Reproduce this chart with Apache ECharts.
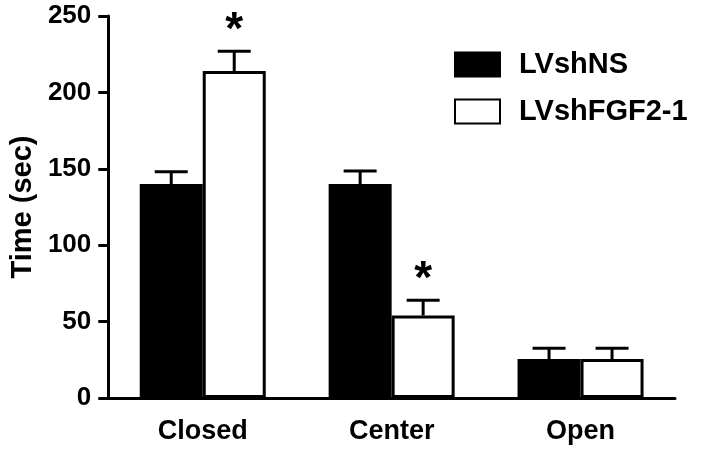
<!DOCTYPE html>
<html>
<head>
<meta charset="utf-8">
<script src="https://cdn.jsdelivr.net/npm/echarts@6/dist/echarts.min.js"></script>
<style>html,body{margin:0;padding:0;background:#fff;}#c{width:704px;height:454px;}</style>
</head>
<body>
<div id="c"></div>
<script>
const categories = ['Closed', 'Center', 'Open'];
const seriesNames = ['LVshNS', 'LVshFGF2-1'];
const meansNS = [140, 140, 25.5];
const errNS = [8, 8.5, 7];
const meansFGF = [214, 54, 25.5];
const errFGF = [13, 10, 7];
const sigNS = [false, false, false];
const sigFGF = [true, true, false];
const yTicks = [0, 50, 100, 150, 200, 250];

const FONT = '"Liberation Sans", Arial, sans-serif';
const BAR_W = 63;

function errSeries(means, errs, sigs, offset) {
  return {
    type: 'custom',
    silent: true,
    z: 5,
    data: means.map((m, i) => [i, m, errs[i], sigs[i] ? 1 : 0]),
    renderItem: function (params, api) {
      const x = api.value(0), m = api.value(1), e = api.value(2), s = api.value(3);
      const p0 = api.coord([x, m]);
      const p1 = api.coord([x, m + e]);
      const cx = p0[0] + offset;
      const half = 16.5;
      const children = [
        { type: 'line', shape: { x1: cx, y1: p0[1], x2: cx, y2: p1[1] }, style: { stroke: '#000', lineWidth: 3 } },
        { type: 'line', shape: { x1: cx - half, y1: p1[1], x2: cx + half, y2: p1[1] }, style: { stroke: '#000', lineWidth: 3 } }
      ];
      if (s) {
        children.push({ type: 'text', x: cx, y: p1[1] - 20, style: { text: '*', font: 'bold 46px ' + FONT, fill: '#000', align: 'center', verticalAlign: 'middle' } });
      }
      return { type: 'group', children: children };
    }
  };
}

const chart = echarts.init(document.getElementById('c'));
chart.setOption({
  animation: false,
  backgroundColor: '#fff',
  grid: { left: 107, right: 29, top: 16, bottom: 56 },
  legend: {
    data: seriesNames,
    orient: 'vertical',
    left: 449, top: 45,
    itemWidth: 45, itemHeight: 24, itemGap: 18,
    icon: 'rect',
    textStyle: { fontFamily: FONT, fontWeight: 'bold', fontSize: 29, color: '#000', padding: [0, 0, 0, 14] }
  },
  xAxis: {
    type: 'category',
    data: categories,
    axisLine: { lineStyle: { color: '#000', width: 3 } },
    axisTick: { alignWithLabel: true, length: 12, lineStyle: { color: '#000', width: 3 } },
    axisLabel: { margin: 20, fontFamily: FONT, fontWeight: 'bold', fontSize: 27, color: '#000' }
  },
  yAxis: {
    type: 'value',
    min: 0, max: 250, interval: 50,
    name: 'Time (sec)',
    nameLocation: 'middle',
    nameGap: 62,
    nameTextStyle: { fontFamily: FONT, fontWeight: 'bold', fontSize: 29, color: '#000' },
    axisLine: { show: true, lineStyle: { color: '#000', width: 3 } },
    axisTick: { show: true, length: 10, lineStyle: { color: '#000', width: 3 } },
    splitLine: { show: false },
    axisLabel: {
      margin: 17, fontFamily: FONT, fontWeight: 'bold', fontSize: 26, color: '#000',
      padding: [5, 0, 0, 0],
      formatter: function (v) { return yTicks.indexOf(v) >= 0 ? String(v) : ''; }
    }
  },
  series: [
    { name: seriesNames[0], type: 'bar', data: meansNS, barWidth: BAR_W, barGap: '0%',
      itemStyle: { color: '#000', borderColor: '#000', borderWidth: 3 } },
    { name: seriesNames[1], type: 'bar', data: meansFGF, barWidth: BAR_W, barGap: '0%',
      itemStyle: { color: '#fff', borderColor: '#000', borderWidth: 3 } },
    errSeries(meansNS, errNS, sigNS, -BAR_W / 2),
    errSeries(meansFGF, errFGF, sigFGF, BAR_W / 2)
  ]
});
</script>
</body>
</html>
